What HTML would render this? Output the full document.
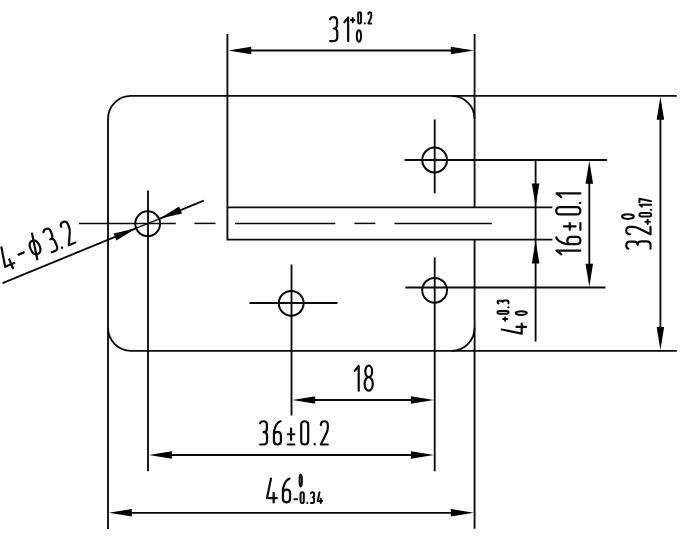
<!DOCTYPE html>
<html><head><meta charset="utf-8"><title>Drawing</title>
<style>
html,body{margin:0;padding:0;background:#fff;font-family:"Liberation Sans",sans-serif;}
body{width:697px;height:556px;overflow:hidden;}
svg{display:block;filter:blur(0.4px);}
</style></head><body>
<svg width="697" height="556" viewBox="0 0 697 556">
<rect width="697" height="556" fill="#fff"/>
<g stroke="#0a0a0a" fill="none" stroke-linecap="butt">
<line x1="108.0" y1="118.9" x2="108.0" y2="529" stroke-width="1.85"/>
<line x1="131.0" y1="95.9" x2="676.8" y2="95.9" stroke-width="1.85"/>
<line x1="131.0" y1="350.8" x2="676.8" y2="350.8" stroke-width="1.85"/>
<line x1="474.6" y1="34" x2="474.6" y2="207.3" stroke-width="1.85"/>
<line x1="474.6" y1="239.6" x2="474.6" y2="528.8" stroke-width="1.85"/>
<line x1="227.4" y1="207.3" x2="552.4" y2="207.3" stroke-width="1.85"/>
<path d="M227.4,34 L227.4,239.6 L552.4,239.6" stroke-width="1.85" stroke-linejoin="miter"/>
<line x1="79" y1="223.4" x2="175.8" y2="223.4" stroke-width="1.5"/>
<line x1="194.5" y1="223.4" x2="215.5" y2="223.4" stroke-width="1.5"/>
<line x1="235" y1="223.4" x2="335.3" y2="223.4" stroke-width="1.5"/>
<line x1="354.5" y1="223.4" x2="375.3" y2="223.4" stroke-width="1.5"/>
<line x1="394.5" y1="223.4" x2="491.8" y2="223.4" stroke-width="1.5"/>
<line x1="148" y1="190.5" x2="148" y2="471.3" stroke-width="1.85"/>
<line x1="434.7" y1="119.5" x2="434.7" y2="193.3" stroke-width="1.85"/>
<line x1="404.5" y1="160" x2="607" y2="160" stroke-width="1.85"/>
<line x1="434.7" y1="257.5" x2="434.7" y2="471.3" stroke-width="1.85"/>
<line x1="405.3" y1="287.5" x2="605.5" y2="287.5" stroke-width="1.85"/>
<line x1="291.5" y1="264.5" x2="291.5" y2="415.5" stroke-width="1.85"/>
<line x1="249.5" y1="303" x2="337.5" y2="303" stroke-width="1.85"/>
<line x1="235.4" y1="50.5" x2="466.6" y2="50.5" stroke-width="1.85"/>
<line x1="660.4" y1="103.9" x2="660.4" y2="342.8" stroke-width="1.85"/>
<line x1="589.3" y1="168" x2="589.3" y2="279.5" stroke-width="1.85"/>
<line x1="535.6" y1="160" x2="535.6" y2="341.5" stroke-width="1.85"/>
<line x1="299.5" y1="400" x2="426.7" y2="400" stroke-width="1.85"/>
<line x1="156" y1="455" x2="426.7" y2="455" stroke-width="1.85"/>
<line x1="116.0" y1="512.8" x2="466.6" y2="512.8" stroke-width="1.85"/>
<line x1="2.54" y1="283.07" x2="136.33" y2="228.21" stroke-width="1.85"/>
<line x1="203.78" y1="200.54" x2="159.27" y2="218.79" stroke-width="1.85"/>
<line x1="136.33" y1="228.21" x2="159.27" y2="218.79" stroke-width="1.3"/>
<path d="M108.0,118.9 A23,23 0 0 1 131.0,95.9" stroke-width="1.85"/><path d="M451.6,95.9 A23,23 0 0 1 474.6,118.9" stroke-width="1.85"/><path d="M474.6,327.8 A23,23 0 0 1 451.6,350.8" stroke-width="1.85"/><path d="M131.0,350.8 A23,23 0 0 1 108.0,327.8" stroke-width="1.85"/>
<circle cx="147.7" cy="223.70000000000002" r="12.4" stroke-width="2.0"/><circle cx="434.6" cy="160.0" r="12.4" stroke-width="2.0"/><circle cx="434.6" cy="290.3" r="12.4" stroke-width="2.0"/><circle cx="291.2" cy="303.3" r="12.4" stroke-width="2.0"/>
</g>
<g><polygon points="228.20,50.50 251.20,46.75 251.20,54.25" fill="#000" stroke="none"/><polygon points="473.80,50.50 450.80,54.25 450.80,46.75" fill="#000" stroke="none"/><polygon points="660.40,96.70 664.15,119.70 656.65,119.70" fill="#000" stroke="none"/><polygon points="660.40,350.00 656.65,327.00 664.15,327.00" fill="#000" stroke="none"/><polygon points="589.30,160.80 593.05,183.80 585.55,183.80" fill="#000" stroke="none"/><polygon points="589.30,286.70 585.55,263.70 593.05,263.70" fill="#000" stroke="none"/><polygon points="535.60,206.50 531.85,183.50 539.35,183.50" fill="#000" stroke="none"/><polygon points="535.60,240.40 539.35,263.40 531.85,263.40" fill="#000" stroke="none"/><polygon points="292.30,400.00 315.30,396.25 315.30,403.75" fill="#000" stroke="none"/><polygon points="433.90,400.00 410.90,403.75 410.90,396.25" fill="#000" stroke="none"/><polygon points="148.80,455.00 171.80,451.25 171.80,458.75" fill="#000" stroke="none"/><polygon points="433.90,455.00 410.90,458.75 410.90,451.25" fill="#000" stroke="none"/><polygon points="108.80,512.80 131.80,509.05 131.80,516.55" fill="#000" stroke="none"/><polygon points="473.80,512.80 450.80,516.55 450.80,509.05" fill="#000" stroke="none"/><polygon points="136.33,228.21 116.47,240.40 113.62,233.46" fill="#000" stroke="none"/><polygon points="159.27,218.79 179.13,206.60 181.98,213.54" fill="#000" stroke="none"/></g>
<g stroke="#0a0a0a" fill="none" stroke-linecap="round" stroke-linejoin="round">
<g transform="translate(330.10,41.10) rotate(0) scale(0.9550,0.9550)" stroke-width="2.20"><path vector-effect="non-scaling-stroke" transform="translate(0.00,-25)" d="M0,2.2 Q0.6,0 3.6,0 Q7.3,0 7.3,3.8 L7.3,8 Q7.3,11.8 3.8,11.8 Q7.5,11.8 7.5,15.8 L7.5,21 Q7.5,25 3.6,25 L0,25"/><path vector-effect="non-scaling-stroke" transform="translate(14.90,-25)" d="M0,5.2 L4,0.3 L4,25"/></g>
<g transform="translate(351.00,23.50) rotate(0) scale(0.3867,0.4550)" stroke-width="2.00"><path vector-effect="non-scaling-stroke" transform="translate(0.00,-25)" d="M4.5,12.7 L4.5,22.3 M0,17.5 L9,17.5"/><path vector-effect="non-scaling-stroke" transform="translate(18.50,-25)" d="M0,3.75 Q0,0 3.75,0 Q7.5,0 7.5,3.75 L7.5,21.25 Q7.5,25 3.75,25 Q0,25 0,21.25 Z"/><path vector-effect="non-scaling-stroke" transform="translate(35.50,-25)" d="M0,24.4 L0,25"/><path vector-effect="non-scaling-stroke" transform="translate(45.00,-25)" d="M0,4 Q0,0 3.75,0 Q7.5,0 7.5,4 L7.5,7 Q7.5,10 6,13 L0,25 L7.5,25"/></g>
<g transform="translate(356.80,41.70) rotate(0) scale(0.5687,0.4550)" stroke-width="2.00"><path vector-effect="non-scaling-stroke" transform="translate(0.00,-25)" d="M3.75,0 A3.75,12.5 0 1 1 3.75,25 A3.75,12.5 0 1 1 3.75,0 Z"/></g>
<g transform="translate(354.70,390.70) rotate(0) scale(1.0000,1.0000)" stroke-width="2.20"><path vector-effect="non-scaling-stroke" transform="translate(0.00,-25)" d="M0,5.2 L4,0.3 L4,25"/><path vector-effect="non-scaling-stroke" transform="translate(9.90,-25)" d="M4.1,0 A3.4,5.75 0 1 1 4.1,11.5 A3.4,5.75 0 1 1 4.1,0 Z M4.1,11.5 A4.1,6.75 0 1 1 4.1,25 A4.1,6.75 0 1 1 4.1,11.5 Z"/></g>
<g transform="translate(260.10,444.50) rotate(0) scale(0.9300,0.9300)" stroke-width="2.20"><path vector-effect="non-scaling-stroke" transform="translate(0.00,-25)" d="M0,2.2 Q0.6,0 3.6,0 Q7.3,0 7.3,3.8 L7.3,8 Q7.3,11.8 3.8,11.8 Q7.5,11.8 7.5,15.8 L7.5,21 Q7.5,25 3.6,25 L0,25"/><path vector-effect="non-scaling-stroke" transform="translate(14.90,-25)" d="M7,0 Q2,1.5 0,11 L0,21.25 Q0,25 3.75,25 Q7.5,25 7.5,21.25 L7.5,15.5 Q7.5,11.5 3.75,11.5 Q0,11.5 0,15.5"/><path vector-effect="non-scaling-stroke" transform="translate(29.80,-25)" d="M3.5,8 L3.5,20 M0,14 L7,14 M0,25 L7,25"/><path vector-effect="non-scaling-stroke" transform="translate(44.20,-25)" d="M0,3.75 Q0,0 3.75,0 Q7.5,0 7.5,3.75 L7.5,21.25 Q7.5,25 3.75,25 Q0,25 0,21.25 Z"/><path vector-effect="non-scaling-stroke" transform="translate(58.70,-25)" d="M0,24.4 L0,25"/><path vector-effect="non-scaling-stroke" transform="translate(65.30,-25)" d="M0,4 Q0,0 3.75,0 Q7.5,0 7.5,4 L7.5,7 Q7.5,10 6,13 L0,25 L7.5,25"/></g>
<g transform="translate(267.00,502.40) rotate(0) scale(0.9500,0.9500)" stroke-width="2.20"><path vector-effect="non-scaling-stroke" transform="translate(0.00,-25)" d="M4.2,0 L0,20.5 L10.3,20.5 M7,15 L7,25"/><path vector-effect="non-scaling-stroke" transform="translate(16.80,-25)" d="M7,0 Q2,1.5 0,11 L0,21.25 Q0,25 3.75,25 Q7.5,25 7.5,21.25 L7.5,15.5 Q7.5,11.5 3.75,11.5 Q0,11.5 0,15.5"/></g>
<g transform="translate(299.50,486.40) rotate(0) scale(0.3168,0.4800)" stroke-width="2.00"><path vector-effect="non-scaling-stroke" transform="translate(0.00,-25)" d="M3.75,0 A3.75,12.5 0 1 1 3.75,25 A3.75,12.5 0 1 1 3.75,0 Z"/></g>
<g transform="translate(294.40,503.00) rotate(0) scale(0.4300,0.4300)" stroke-width="2.00"><path vector-effect="non-scaling-stroke" transform="translate(0.00,-25)" d="M0,16.5 L6,16.5"/><path vector-effect="non-scaling-stroke" transform="translate(14.30,-25)" d="M0,3.75 Q0,0 3.75,0 Q7.5,0 7.5,3.75 L7.5,21.25 Q7.5,25 3.75,25 Q0,25 0,21.25 Z"/><path vector-effect="non-scaling-stroke" transform="translate(30.10,-25)" d="M0,24.4 L0,25"/><path vector-effect="non-scaling-stroke" transform="translate(38.40,-25)" d="M0,2.2 Q0.6,0 3.6,0 Q7.3,0 7.3,3.8 L7.3,8 Q7.3,11.8 3.8,11.8 Q7.5,11.8 7.5,15.8 L7.5,21 Q7.5,25 3.6,25 L0,25"/><path vector-effect="non-scaling-stroke" transform="translate(54.20,-25)" d="M4.2,0 L0,20.5 L10.3,20.5 M7,15 L7,25"/></g>
<g transform="translate(580.40,254.40) rotate(-90) scale(0.9650,0.9650)" stroke-width="2.20"><path vector-effect="non-scaling-stroke" transform="translate(0.00,-25)" d="M0,5.2 L4,0.3 L4,25"/><path vector-effect="non-scaling-stroke" transform="translate(10.60,-25)" d="M7,0 Q2,1.5 0,11 L0,21.25 Q0,25 3.75,25 Q7.5,25 7.5,21.25 L7.5,15.5 Q7.5,11.5 3.75,11.5 Q0,11.5 0,15.5"/><path vector-effect="non-scaling-stroke" transform="translate(25.50,-25)" d="M3.5,8 L3.5,20 M0,14 L7,14 M0,25 L7,25"/><path vector-effect="non-scaling-stroke" transform="translate(41.40,-25)" d="M0,3.75 Q0,0 3.75,0 Q7.5,0 7.5,3.75 L7.5,21.25 Q7.5,25 3.75,25 Q0,25 0,21.25 Z"/><path vector-effect="non-scaling-stroke" transform="translate(53.30,-25)" d="M0,24.4 L0,25"/><path vector-effect="non-scaling-stroke" transform="translate(59.30,-25)" d="M0,5.2 L4,0.3 L4,25"/></g>
<g transform="translate(650.50,248.70) rotate(-90) scale(0.9700,0.9700)" stroke-width="2.20"><path vector-effect="non-scaling-stroke" transform="translate(0.00,-25)" d="M0,2.2 Q0.6,0 3.6,0 Q7.3,0 7.3,3.8 L7.3,8 Q7.3,11.8 3.8,11.8 Q7.5,11.8 7.5,15.8 L7.5,21 Q7.5,25 3.6,25 L0,25"/><path vector-effect="non-scaling-stroke" transform="translate(14.90,-25)" d="M0,4 Q0,0 3.75,0 Q7.5,0 7.5,4 L7.5,7 Q7.5,10 6,13 L0,25 L7.5,25"/></g>
<g transform="translate(633.80,218.90) rotate(-90) scale(0.6110,0.4700)" stroke-width="2.00"><path vector-effect="non-scaling-stroke" transform="translate(0.00,-25)" d="M3.75,0 A3.75,12.5 0 1 1 3.75,25 A3.75,12.5 0 1 1 3.75,0 Z"/></g>
<g transform="translate(651.20,223.90) rotate(-90) scale(0.4700,0.4700)" stroke-width="2.00"><path vector-effect="non-scaling-stroke" transform="translate(0.00,-25)" d="M4.5,12.7 L4.5,22.3 M0,17.5 L9,17.5"/><path vector-effect="non-scaling-stroke" transform="translate(15.70,-25)" d="M0,3.75 Q0,0 3.75,0 Q7.5,0 7.5,3.75 L7.5,21.25 Q7.5,25 3.75,25 Q0,25 0,21.25 Z"/><path vector-effect="non-scaling-stroke" transform="translate(29.90,-25)" d="M0,24.4 L0,25"/><path vector-effect="non-scaling-stroke" transform="translate(36.60,-25)" d="M0,5.2 L4,0.3 L4,25"/><path vector-effect="non-scaling-stroke" transform="translate(45.80,-25)" d="M0,0 L7.5,0 L2.5,25"/></g>
<g transform="translate(526.10,333.60) rotate(-90) scale(0.9700,0.9700)" stroke-width="2.20"><path vector-effect="non-scaling-stroke" transform="translate(0.00,-25)" d="M4.2,0 L0,20.5 L10.3,20.5 M7,15 L7,25"/></g>
<g transform="translate(508.50,320.80) rotate(-90) scale(0.3740,0.4400)" stroke-width="2.00"><path vector-effect="non-scaling-stroke" transform="translate(0.00,-25)" d="M4.5,12.7 L4.5,22.3 M0,17.5 L9,17.5"/><path vector-effect="non-scaling-stroke" transform="translate(19.00,-25)" d="M0,3.75 Q0,0 3.75,0 Q7.5,0 7.5,3.75 L7.5,21.25 Q7.5,25 3.75,25 Q0,25 0,21.25 Z"/><path vector-effect="non-scaling-stroke" transform="translate(36.50,-25)" d="M0,24.4 L0,25"/><path vector-effect="non-scaling-stroke" transform="translate(46.50,-25)" d="M0,2.2 Q0.6,0 3.6,0 Q7.3,0 7.3,3.8 L7.3,8 Q7.3,11.8 3.8,11.8 Q7.5,11.8 7.5,15.8 L7.5,21 Q7.5,25 3.6,25 L0,25"/></g>
<g transform="translate(526.80,314.90) rotate(-90) scale(0.4895,0.4450)" stroke-width="2.00"><path vector-effect="non-scaling-stroke" transform="translate(0.00,-25)" d="M3.75,0 A3.75,12.5 0 1 1 3.75,25 A3.75,12.5 0 1 1 3.75,0 Z"/></g>
<g transform="translate(6.75,270.75) rotate(-22.3) scale(0.9500,0.9500)" stroke-width="2.20"><path vector-effect="non-scaling-stroke" transform="translate(0.00,-25)" d="M4.2,0 L0,20.5 L10.3,20.5 M7,15 L7,25"/><path vector-effect="non-scaling-stroke" transform="translate(17.90,-25)" d="M0,14 L6,14"/><path vector-effect="non-scaling-stroke" transform="translate(31.90,-25)" d="M0,13.5 Q0,6 5,6 Q10,6 10,13.5 Q10,21 5,21 Q0,21 0,13.5 Z M7.6,-1 L2.4,26"/><path vector-effect="non-scaling-stroke" transform="translate(51.20,-25)" d="M0,2.2 Q0.6,0 3.6,0 Q7.3,0 7.3,3.8 L7.3,8 Q7.3,11.8 3.8,11.8 Q7.5,11.8 7.5,15.8 L7.5,21 Q7.5,25 3.6,25 L0,25"/><path vector-effect="non-scaling-stroke" transform="translate(63.10,-25)" d="M0,24.4 L0,25"/><path vector-effect="non-scaling-stroke" transform="translate(70.60,-25)" d="M0,4 Q0,0 3.75,0 Q7.5,0 7.5,4 L7.5,7 Q7.5,10 6,13 L0,25 L7.5,25"/></g>
</g>
</svg>
</body></html>
